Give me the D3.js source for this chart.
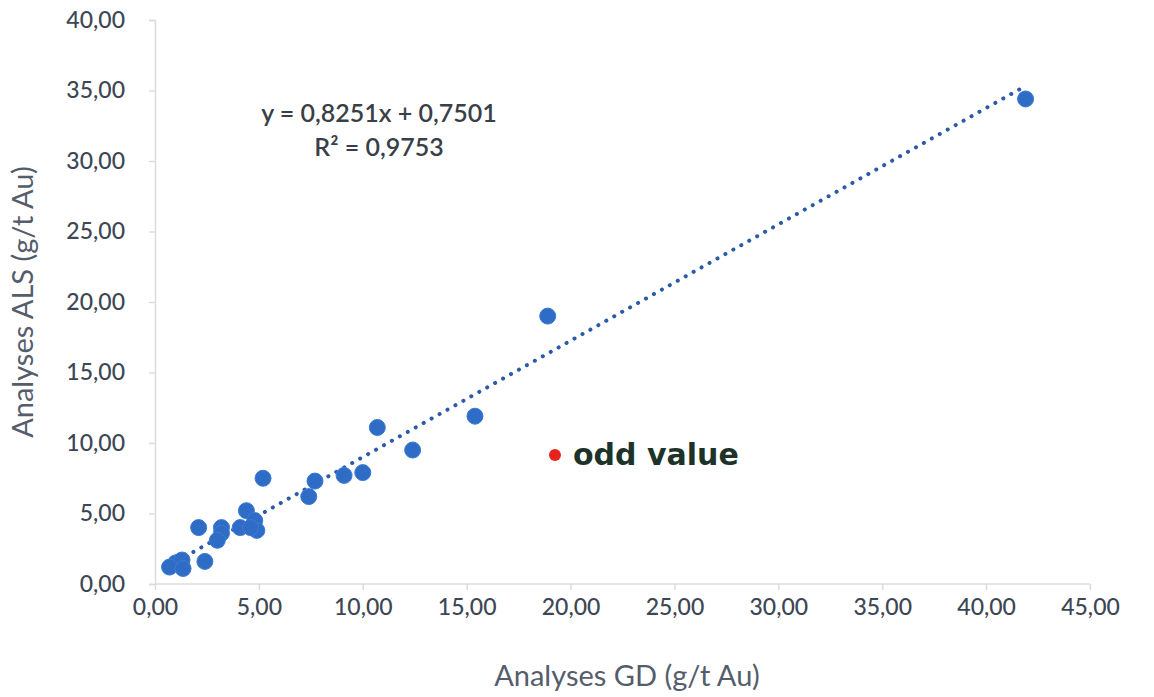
<!DOCTYPE html>
<html><head><meta charset="utf-8">
<script src="https://cdn.jsdelivr.net/npm/d3@7"></script>
<style>body{margin:0;background:#fff}svg{display:block}</style>
</head><body>
<svg id="c" width="1154" height="697"></svg>
<script>
const gdValues  = [41.9,18.9,15.4,10.7,12.4,10.0,9.1,7.7,7.4,5.2,4.4,4.8,4.9,4.1,4.6,3.2,3.2,3.0,2.1,2.4,1.0,1.3,0.7,1.35];
const alsValues = [34.4,19.0,11.9,11.1,9.5,7.9,7.7,7.3,6.2,7.5,5.2,4.5,3.8,4.0,4.0,4.0,3.6,3.1,4.0,1.6,1.5,1.7,1.2,1.1];
const oddPoint = {gd:19.25, als:9.15, label:"odd value"};
const xTicks = [0,5,10,15,20,25,30,35,40,45];
const yTicks = [0,5,10,15,20,25,30,35,40];
const slope = 0.8251, intercept = 0.7501;
const equationText = "y = 0,8251x + 0,7501";
const r2Text = "R² = 0,9753";
const xTitle = "Analyses GD (g/t Au)";
const yTitle = "Analyses ALS (g/t Au)";

const svg = d3.select("#c");
const x = d3.scaleLinear().domain([0,45]).range([155,1090]);
const y = d3.scaleLinear().domain([0,40]).range([584,20]);
const fmt = d => d3.format(".2f")(d).replace(".", ",");
const font = "Lato, 'Open Sans', sans-serif";
const axisCol = "#dcdcdc", labCol = "#3d4654";

// axes
const xa = svg.append("g").attr("transform","translate(0,584)")
  .call(d3.axisBottom(x).tickValues(xTicks).tickFormat(fmt).tickSize(6).tickPadding(9));
const ya = svg.append("g").attr("transform","translate(155,0)")
  .call(d3.axisLeft(y).tickValues(yTicks).tickFormat(fmt).tickSize(6).tickPadding(24));
[xa,ya].forEach(g=>{
  g.selectAll("path,line").attr("stroke",axisCol).attr("stroke-width",1.5);
  g.selectAll("text").attr("fill",labCol).attr("font-family",font).attr("font-size",23).attr("font-weight",500);
});
xa.select(".domain").attr("d","M155,0H1090");

// trendline (dotted)
const xmin = d3.min(gdValues), xmax = d3.max(gdValues);
svg.append("line")
  .attr("x1",x(xmin)).attr("y1",y(slope*xmin+intercept))
  .attr("x2",x(xmax)).attr("y2",y(slope*xmax+intercept))
  .attr("stroke","#2a5aa8").attr("stroke-width",4)
  .attr("stroke-linecap","round").attr("stroke-dasharray","0.1 9");

// points
svg.append("g").selectAll("circle").data(gdValues.map((g,i)=>[g,alsValues[i]]))
  .join("circle").attr("cx",d=>x(d[0])).attr("cy",d=>y(d[1])).attr("r",8)
  .attr("fill","#2f6cc6").attr("stroke","#3b7ad6").attr("stroke-width",1);

// odd point
svg.append("circle").attr("cx",x(oddPoint.gd)).attr("cy",y(oddPoint.als)).attr("r",6).attr("fill","#e8231c");
svg.append("text").attr("x",x(oddPoint.gd)+18).attr("y",y(oddPoint.als)+10)
  .attr("font-family","'DejaVu Sans', sans-serif").attr("font-weight","bold").attr("font-size",30)
  .attr("fill","#1d3329").text(oddPoint.label);

// equation
svg.append("text").attr("x",379).attr("y",122).attr("text-anchor","middle")
  .attr("font-family",font).attr("font-size",25).attr("font-weight",600).attr("fill","#3a3f47").text(equationText);
svg.append("text").attr("x",379).attr("y",156).attr("text-anchor","middle")
  .attr("font-family",font).attr("font-size",25).attr("font-weight",600).attr("fill","#3a3f47").text(r2Text);

// titles
svg.append("text").attr("x",627).attr("y",686).attr("text-anchor","middle")
  .attr("font-family",font).attr("font-size",29).attr("fill","#555d6c").text(xTitle);
svg.append("text").attr("transform","translate(33,302) rotate(-90)").attr("text-anchor","middle")
  .attr("font-family",font).attr("font-size",29).attr("fill","#555d6c").text(yTitle);
</script>
</body></html>
